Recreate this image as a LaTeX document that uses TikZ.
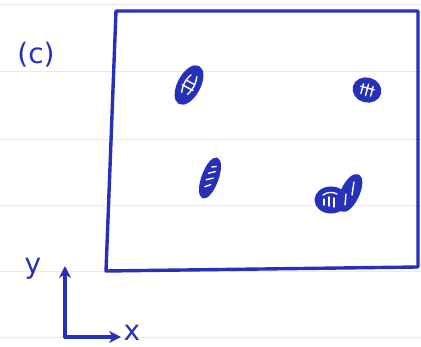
\documentclass[tikz,border=0pt]{standalone}
\usepackage{fontspec}
\setmainfont{DejaVu Sans}
\usetikzlibrary{arrows.meta}
\definecolor{pen}{RGB}{38,48,185}
\definecolor{paperline}{RGB}{232,234,240}
\tikzset{
  ink/.style={draw=pen, line width=3.4pt, line cap=round, line join=round},
  blob/.style={draw=pen, fill=pen, line width=3pt},
  hatch/.style={draw=white, line width=1.4pt, line cap=round},
  handtext/.style={text=pen, font=\fontsize{28}{30}\selectfont},
  axisarrow/.style={ink, -{Stealth[length=12pt,width=12pt]}},
}
\begin{document}
\begin{tikzpicture}[x=1pt,y=-1pt]
\useasboundingbox (0,0) rectangle (421,347);
\fill[white] (0,0) rectangle (421,347);
% faint notebook lines
\foreach \yy in {5,72,140,206,272,338}
  \draw[paperline, line width=1pt] (0,\yy) -- (421,\yy);
% frame
\draw[ink] (116,11) -- (418,11) -- (418,267) -- (106,271) -- cycle;
% label
\node[handtext] (lab) at (36,55) {(c)};
% blobs
\begin{scope}[shift={(189,85)}, rotate=62]
  \filldraw[blob] (0,0) ellipse (20 and 10);
  \draw[hatch] (-10,-3) to[bend left=20] (10,-3);
  \draw[hatch] (-9,3) to[bend right=20] (11,3);
  \draw[hatch] (-3,-6) -- (-3,6);
  \draw[hatch] (3,-5) -- (3,5);
\end{scope}
\begin{scope}[shift={(367,90)}, rotate=-15]
  \filldraw[blob] (0,0) ellipse (13 and 11);
  \draw[hatch] (-7,-2) -- (7,-2);
  \draw[hatch] (-5,-5) -- (-5,5);
  \draw[hatch] (0,-6) -- (0,6);
  \draw[hatch] (5,-5) -- (5,5);
\end{scope}
\begin{scope}[shift={(210,178)}, rotate=70]
  \filldraw[blob] (0,0) ellipse (20 and 7);
  \draw[hatch] (-10,-2) -- (-6,3);
  \draw[hatch] (-3,-3) -- (1,3);
  \draw[hatch] (4,-3) -- (8,3);
  \draw[hatch] (11,-2) -- (13,2);
\end{scope}
\begin{scope}[shift={(331,200)}]
  \filldraw[blob] (0,0) ellipse (15 and 12);
  \begin{scope}[shift={(19,-7)}, rotate=65]
    \filldraw[blob] (0,0) ellipse (19 and 8);
  \end{scope}
  \draw[hatch] (-8,-5) to[bend left=30] (6,-6);
  \draw[hatch] (-7,-1) -- (-7,5);
  \draw[hatch] (-2,-3) -- (-2,6);
  \draw[hatch] (3,-2) -- (3,7);
  \draw[hatch] (15,-6) -- (14,5);
  \draw[hatch] (23,-18) -- (21,-5);
\end{scope}
% axes
\coordinate (o) at (65,337);
\coordinate (ytip) at (65,266);
\coordinate (xtip) at (121,337);
\draw[axisarrow] (o) -- (ytip);
\draw[axisarrow] (o) -- (xtip);
\node[handtext] (ylab) at (33,269) {y};
\node[handtext] (xlab) at (132,333) {x};
\end{tikzpicture}
\end{document}
